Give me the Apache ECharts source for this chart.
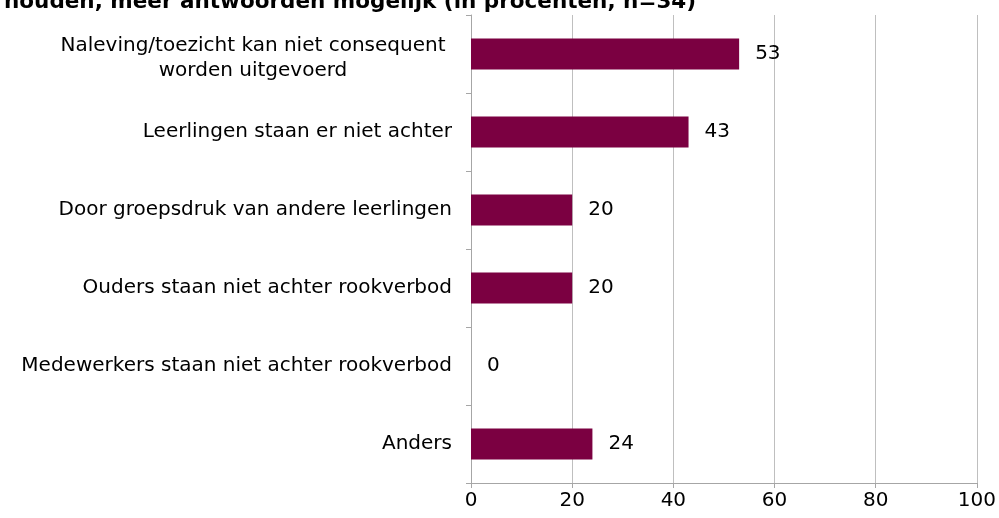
<!DOCTYPE html>
<html>
<head>
<meta charset="utf-8">
<script src="https://cdn.jsdelivr.net/npm/echarts@6/dist/echarts.min.js"></script>
<style>
html,body{margin:0;padding:0;background:#fff;}
#main{width:999px;height:518px;}
</style>
</head>
<body>
<div id="main"></div>
<script>
var titel = 'houden, meer antwoorden mogelijk (in procenten, n=34)';
var redenen = [
    'Naleving/toezicht kan niet consequent\nworden uitgevoerd',
    'Leerlingen staan er niet achter',
    'Door groepsdruk van andere leerlingen',
    'Ouders staan niet achter rookverbod',
    'Medewerkers staan niet achter rookverbod',
    'Anders'
];
var percentages = [53, 43, 20, 20, 0, 24];
var xTicks = [0, 20, 40, 60, 80, 100];

var font = 'DejaVu Sans';
var fs = 20;
var myChart = echarts.init(document.getElementById('main'));

// tweeregelig label iets lager zetten, zoals in het origineel
var categorieen = redenen.map(function (r) {
    if (r.indexOf('\n') >= 0) {
        return {value: r, textStyle: {padding: [8, 0, 0, 0]}};
    }
    return r;
});

var option = {
    animation: false,
    title: {
        text: titel,
        left: -1,
        top: -14,
        textStyle: {fontFamily: font, fontWeight: 'bold', fontSize: 21.5, color: '#000'}
    },
    grid: {left: 471, right: 22, top: 15, bottom: 35, containLabel: false},
    xAxis: {
        type: 'value',
        min: xTicks[0],
        max: xTicks[xTicks.length - 1],
        interval: 20,
        axisLine: {show: true, lineStyle: {color: '#a6a6a6'}},
        axisTick: {show: true, length: 5, lineStyle: {color: '#a6a6a6'}},
        splitLine: {show: true, lineStyle: {color: '#bfbfbf'}},
        axisLabel: {fontFamily: font, fontSize: fs, color: '#000', margin: 8}
    },
    yAxis: {
        type: 'category',
        data: categorieen,
        inverse: true,
        axisLine: {show: true, lineStyle: {color: '#a6a6a6'}},
        axisTick: {show: true, length: 5, lineStyle: {color: '#a6a6a6'}},
        axisLabel: {
            fontFamily: font, fontSize: fs, color: '#000', margin: 19, lineHeight: 25,
            formatter: function (value) {
                if (value.indexOf('\n') >= 0) {
                    return value.split('\n').map(function (r) { return '{c|' + r + '}'; }).join('\n');
                }
                return value;
            },
            rich: {
                c: {width: 398, align: 'center', fontFamily: font, fontSize: fs, color: '#000', lineHeight: 25}
            }
        }
    },
    series: [{
        type: 'bar',
        data: percentages,
        barWidth: '40%',
        itemStyle: {color: '#7b0041'},
        label: {
            show: true,
            position: 'right',
            distance: 16,
            fontFamily: font,
            fontSize: fs,
            color: '#000'
        }
    }]
};
myChart.setOption(option);
</script>
</body>
</html>
